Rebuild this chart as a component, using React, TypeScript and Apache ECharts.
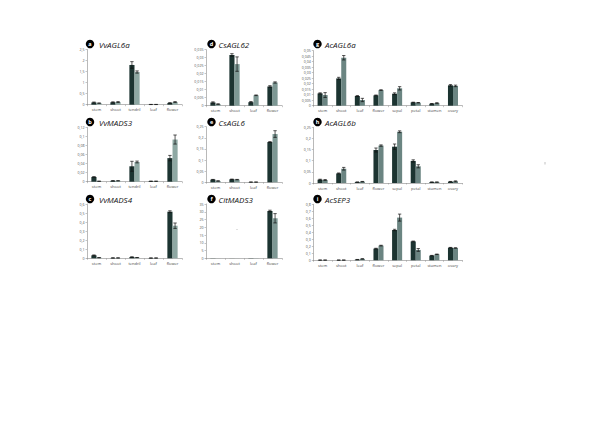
import React, { useEffect, useRef } from 'react';
import * as echarts from 'echarts';

// ---------- categories ----------
const vitisCategories = ['stem', 'shoot', 'tendril', 'leaf', 'flower'];
const citrusCategories = ['stem', 'shoot', 'leaf', 'flower'];
const actinidiaCategories = ['stem', 'shoot', 'leaf', 'flower', 'sepal', 'petal', 'stamen', 'ovary'];

const panelLetters = ['a', 'b', 'c', 'd', 'e', 'f', 'g', 'h', 'i'];
const geneNames = ['VvAGL6a', 'VvMADS3', 'VvMADS4', 'CsAGL62', 'CsAGL6', 'CitMADS3', 'AcAGL6a', 'AcAGL6b', 'AcSEP3'];

// ---------- y axis scales ----------
const yAxisMax = [2.5, 0.12, 0.6, 0.035, 0.25, 35, 0.05, 0.25, 0.8];
const yAxisInterval = [0.5, 0.02, 0.1, 0.005, 0.05, 5, 0.005, 0.05, 0.1];

// ---------- series values (dark / light) with error ----------
const vvAGL6aDark = [0.1, 0.11, 1.8, 0.01, 0.08];
const vvAGL6aDarkErr = [0.02, 0.02, 0.15, 0.004, 0.01];
const vvAGL6aLight = [0.07, 0.12, 1.48, 0.01, 0.12];
const vvAGL6aLightErr = [0.01, 0.02, 0.05, 0.004, 0.02];

const vvMADS3Dark = [0.0105, 0.002, 0.034, 0.001, 0.052];
const vvMADS3DarkErr = [0.0005, 0.0003, 0.011, 0.0002, 0.006];
const vvMADS3Light = [0.001, 0.002, 0.0435, 0.001, 0.093];
const vvMADS3LightErr = [0.0002, 0.0003, 0.002, 0.0002, 0.01];

const vvMADS4Dark = [0.033, 0.004, 0.014, 0.003, 0.515];
const vvMADS4DarkErr = [0.004, 0.001, 0.002, 0.001, 0.01];
const vvMADS4Light = [0.007, 0.004, 0.008, 0.003, 0.36];
const vvMADS4LightErr = [0.001, 0.001, 0.001, 0.001, 0.03];

const csAGL62Dark = [0.002, 0.0317, 0.0022, 0.012];
const csAGL62DarkErr = [0.0004, 0.0008, 0.0004, 0.0005];
const csAGL62Light = [0.001, 0.026, 0.0065, 0.0145];
const csAGL62LightErr = [0.0002, 0.0045, 0.0002, 0.0004];

const csAGL6Dark = [0.012, 0.0135, 0.001, 0.181];
const csAGL6DarkErr = [0.001, 0.001, 0.0003, 0.002];
const csAGL6Light = [0.006, 0.012, 0.001, 0.217];
const csAGL6LightErr = [0.001, 0.001, 0.0003, 0.015];

const citMADS3Dark = [0.1, 0.05, 0.15, 30.5];
const citMADS3DarkErr = [0, 0, 0, 0.5];
const citMADS3Light = [0.05, 0.05, 0.1, 25.8];
const citMADS3LightErr = [0, 0, 0, 3];

const acAGL6aDark = [0.0112, 0.0248, 0.0088, 0.0094, 0.0109, 0.003, 0.0018, 0.0185];
const acAGL6aDarkErr = [0.0005, 0.001, 0.0004, 0.0003, 0.0008, 0.0002, 0.0002, 0.0007];
const acAGL6aLight = [0.0097, 0.0436, 0.0052, 0.0142, 0.0158, 0.0027, 0.0024, 0.018];
const acAGL6aLightErr = [0.0022, 0.002, 0.0015, 0.0003, 0.0015, 0.0002, 0.0003, 0.0007];

const acAGL6bDark = [0.015, 0.043, 0.004, 0.148, 0.163, 0.099, 0.004, 0.006];
const acAGL6bDarkErr = [0.002, 0.002, 0.0005, 0.009, 0.012, 0.005, 0.0005, 0.001];
const acAGL6bLight = [0.0135, 0.064, 0.006, 0.168, 0.23, 0.075, 0.004, 0.0075];
const acAGL6bLightErr = [0.002, 0.006, 0.001, 0.003, 0.004, 0.007, 0.0005, 0.002];

const acSEP3Dark = [0.003, 0.003, 0.01, 0.167, 0.433, 0.27, 0.067, 0.18];
const acSEP3DarkErr = [0.001, 0.001, 0.002, 0.005, 0.01, 0.005, 0.003, 0.004];
const acSEP3Light = [0.003, 0.003, 0.02, 0.21, 0.61, 0.148, 0.086, 0.176];
const acSEP3LightErr = [0.001, 0.001, 0.003, 0.005, 0.05, 0.02, 0.003, 0.003];

const panelCategories = [
  vitisCategories, vitisCategories, vitisCategories,
  citrusCategories, citrusCategories, citrusCategories,
  actinidiaCategories, actinidiaCategories, actinidiaCategories,
];
const panelDark = [vvAGL6aDark, vvMADS3Dark, vvMADS4Dark, csAGL62Dark, csAGL6Dark, citMADS3Dark, acAGL6aDark, acAGL6bDark, acSEP3Dark];
const panelDarkErr = [vvAGL6aDarkErr, vvMADS3DarkErr, vvMADS4DarkErr, csAGL62DarkErr, csAGL6DarkErr, citMADS3DarkErr, acAGL6aDarkErr, acAGL6bDarkErr, acSEP3DarkErr];
const panelLight = [vvAGL6aLight, vvMADS3Light, vvMADS4Light, csAGL62Light, csAGL6Light, citMADS3Light, acAGL6aLight, acAGL6bLight, acSEP3Light];
const panelLightErr = [vvAGL6aLightErr, vvMADS3LightErr, vvMADS4LightErr, csAGL62LightErr, csAGL6LightErr, citMADS3LightErr, acAGL6aLightErr, acAGL6bLightErr, acSEP3LightErr];

// ---------- layout / style ----------
const layout = [
  { left: 87, top: 49.5, width: 95, height: 55.2 },
  { left: 87, top: 127.3, width: 95, height: 54.4 },
  { left: 87, top: 204, width: 95, height: 54.3 },
  { left: 206, top: 49.7, width: 76, height: 56 },
  { left: 206, top: 126.7, width: 76, height: 55.6 },
  { left: 206, top: 204, width: 76, height: 54.3 },
  { left: 313.3, top: 50.7, width: 149, height: 55 },
  { left: 313.3, top: 127.3, width: 149, height: 55.7 },
  { left: 313.3, top: 204.3, width: 149, height: 56 },
];
const colCircleX = [90, 211.5, 317.5];
const colTextX = [99, 218.5, 325];
const rowY = [44, 122, 199];
const darkColor = '#1c3431';
const lightColors = ['#8ea8a3', '#7d9894', '#6b8582'];
const BAR_FRAC = 0.27;
const FONT = "'Open Sans', 'DejaVu Sans', sans-serif";

const fmt = (v: number) => (v === 0 ? '0' : String(parseFloat(v.toFixed(6))).replace('.', ','));

function errorSeries(idx: number, values: number[], errors: number[], side: number) {
  return {
    type: 'custom',
    xAxisIndex: idx,
    yAxisIndex: idx,
    z: 5,
    silent: true,
    data: values.map((v, i) => [i, v, errors[i]]),
    encode: { x: 0, y: 1 },
    renderItem: (params: any, api: any) => {
      const x = api.value(0);
      const v = api.value(1);
      const e = api.value(2);
      if (!e) return { type: 'group', children: [] };
      const band = api.size([1, 0])[0];
      const bw = band * BAR_FRAC;
      const pTop = api.coord([x, v + e]);
      const pBot = api.coord([x, Math.max(0, v - e)]);
      const cx = pTop[0] + (side * bw) / 2;
      const cap = bw * 0.33;
      const style = { stroke: '#111', lineWidth: 0.7 };
      return {
        type: 'group',
        children: [
          { type: 'line', shape: { x1: cx, y1: pTop[1], x2: cx, y2: pBot[1] }, style },
          { type: 'line', shape: { x1: cx - cap, y1: pTop[1], x2: cx + cap, y2: pTop[1] }, style },
          { type: 'line', shape: { x1: cx - cap, y1: pBot[1], x2: cx + cap, y2: pBot[1] }, style },
        ],
      };
    },
  };
}

export default function App() {
  const ref = useRef<HTMLDivElement>(null);
  useEffect(() => {
    if (!ref.current) return;
    const chart = echarts.init(ref.current, undefined, { renderer: 'svg' });
    const grids: any[] = [];
    const xAxes: any[] = [];
    const yAxes: any[] = [];
    const series: any[] = [];
    const graphics: any[] = [];
    for (let k = 0; k < 9; k++) {
      const col = Math.floor(k / 3);
      const row = k % 3;
      grids.push({ ...layout[k], containLabel: false });
      xAxes.push({
        type: 'category',
        gridIndex: k,
        data: panelCategories[k],
        axisLine: { lineStyle: { color: '#8a8a8a', width: 0.6 } },
        axisTick: { show: true, length: 1.5, lineStyle: { color: '#8a8a8a', width: 0.5 } },
        axisLabel: { fontSize: 4, color: '#444', margin: 3, fontFamily: FONT, interval: 0 },
      });
      yAxes.push({
        type: 'value',
        gridIndex: k,
        min: 0,
        max: yAxisMax[k],
        interval: yAxisInterval[k],
        splitLine: { show: false },
        axisLine: { show: true, lineStyle: { color: '#8a8a8a', width: 0.6 } },
        axisTick: { show: true, length: 1.5, lineStyle: { color: '#8a8a8a', width: 0.5 } },
        axisLabel: { fontSize: 3.6, color: '#555', margin: 2.5, fontFamily: FONT, formatter: fmt },
      });
      series.push({
        type: 'bar',
        xAxisIndex: k,
        yAxisIndex: k,
        data: panelDark[k],
        barWidth: `${BAR_FRAC * 100}%`,
        barGap: '0%',
        itemStyle: { color: darkColor },
      });
      series.push({
        type: 'bar',
        xAxisIndex: k,
        yAxisIndex: k,
        data: panelLight[k],
        barWidth: `${BAR_FRAC * 100}%`,
        barGap: '0%',
        itemStyle: { color: lightColors[col] },
      });
      series.push(errorSeries(k, panelDark[k], panelDarkErr[k], -1));
      series.push(errorSeries(k, panelLight[k], panelLightErr[k], 1));

      graphics.push({
        type: 'circle',
        shape: { cx: colCircleX[col], cy: rowY[row], r: 4.2 },
        style: { fill: '#000' },
      });
      graphics.push({
        type: 'text',
        x: colCircleX[col],
        y: rowY[row],
        style: {
          text: panelLetters[k],
          fill: '#fff',
          fontSize: 5.5,
          fontWeight: 'bold',
          fontFamily: FONT,
          align: 'center',
          verticalAlign: 'middle',
        },
      });
      graphics.push({
        type: 'text',
        x: colTextX[col],
        y: rowY[row],
        style: {
          text: geneNames[k],
          fill: '#111',
          fontSize: 8,
          fontStyle: 'italic',
          fontFamily: FONT,
          align: 'left',
          verticalAlign: 'middle',
        },
      });
    }
    // small stray marks present in the figure
    graphics.push({ type: 'line', shape: { x1: 545, y1: 162, x2: 545, y2: 164.5 }, style: { stroke: '#999', lineWidth: 0.6 } });
    graphics.push({ type: 'line', shape: { x1: 236.5, y1: 229.5, x2: 237.5, y2: 229.5 }, style: { stroke: '#999', lineWidth: 0.6 } });

    chart.setOption({
      animation: false,
      backgroundColor: '#ffffff',
      grid: grids,
      xAxis: xAxes,
      yAxis: yAxes,
      series,
      graphic: graphics,
    });
    return () => chart.dispose();
  }, []);
  return (
    <div
      ref={ref}
      style={{ position: 'fixed', left: 0, top: 0, width: 600, height: 424, background: '#fff' }}
    />
  );
}
